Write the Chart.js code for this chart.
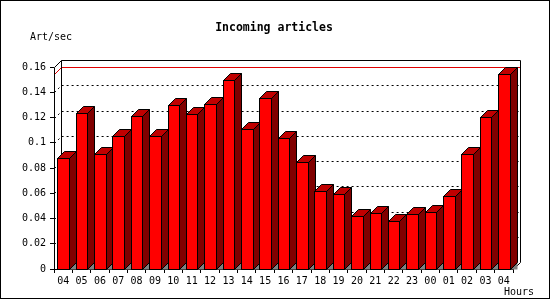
<!DOCTYPE html>
<html>
<head>
<meta charset="utf-8">
<script src="https://cdn.jsdelivr.net/npm/chart.js@4.4.1/dist/chart.umd.min.js"></script>
<style>
  html, body { margin: 0; padding: 0; background: #fff; }
  canvas { display: block; }
</style>
</head>
<body>
<canvas id="myChart" width="550" height="300"></canvas>
<script>
const hours = ['04', '05', '06', '07', '08', '09', '10', '11', '12', '13', '14', '15', '16',
    '17', '18', '19', '20', '21', '22', '23', '00', '01', '02', '03', '04'];
const artPerSec = [0.0877, 0.1233, 0.0908, 0.1051, 0.121, 0.1051, 0.1297, 0.1225, 0.1305,
    0.1495, 0.1107, 0.1352, 0.1035, 0.0845, 0.0615, 0.0592, 0.0417, 0.0441, 0.0378,
    0.0433, 0.0449, 0.0576, 0.0908, 0.1202, 0.1542];
const yTicks = [0, 0.02, 0.04, 0.06, 0.08, 0.1, 0.12, 0.14, 0.16];

const chartTitle = 'Incoming articles';
const yTitle = 'Art/sec';
const xTitle = 'Hours';

const mono = "'DejaVu Sans Mono', 'Liberation Mono', monospace";
const DEPTH = 7;

// gd-style 3d bars, back wall and grid
const threeD = {
    id: 'threeD',
    beforeDraw(chart) {
        const c = chart.ctx;
        c.save();
        c.fillStyle = '#fff';
        c.fillRect(0, 0, chart.width, chart.height);
        c.restore();
    },
    beforeDatasetsDraw(chart) {
        const c = chart.ctx;
        const a = chart.chartArea;
        const ys = chart.scales.y;
        const L = Math.round(a.left) + 0.5, R = Math.round(a.right) + 0.5;
        const T = Math.round(a.top) + 0.5, B = Math.round(a.bottom) + 0.5;
        c.save();
        c.lineWidth = 1;

        // dotted grid on back wall + side wall
        c.strokeStyle = '#000';
        c.setLineDash([2, 3]);
        yTicks.forEach(v => {
            if (v === 0 || v === ys.max) return;
            const y = Math.round(ys.getPixelForValue(v)) + 0.5;
            c.beginPath();
            c.moveTo(L, y);
            c.lineTo(L + DEPTH, y - DEPTH);
            c.lineTo(R + DEPTH, y - DEPTH);
            c.stroke();
        });
        c.setLineDash([]);

        // max line
        const yMax = Math.round(ys.getPixelForValue(Math.max(...artPerSec))) + 0.5;
        c.strokeStyle = '#e00000';
        c.beginPath();
        c.moveTo(L, yMax);
        c.lineTo(L + DEPTH, yMax - DEPTH);
        c.lineTo(R + DEPTH, yMax - DEPTH);
        c.stroke();

        // frame
        c.strokeStyle = '#000';
        c.beginPath();
        c.moveTo(L, B);
        c.lineTo(L, T);
        c.lineTo(L + DEPTH, T - DEPTH);
        c.lineTo(R + DEPTH, T - DEPTH);
        c.lineTo(R + DEPTH, B - DEPTH);
        c.lineTo(R, B);
        c.lineTo(L, B);
        c.moveTo(L + DEPTH, T - DEPTH);
        c.lineTo(L + DEPTH, B - DEPTH);
        c.stroke();
        c.restore();
    },
    afterDatasetsDraw(chart) {
        const c = chart.ctx;
        const meta = chart.getDatasetMeta(0);
        c.save();
        c.lineWidth = 1;
        c.strokeStyle = '#000';
        meta.data.forEach(bar => {
            const l = Math.round(bar.x - bar.width / 2) + 0.5;
            const r = Math.round(bar.x + bar.width / 2) + 0.5;
            const t = Math.round(bar.y) + 0.5;
            const b = Math.round(bar.base) + 0.5;
            // floor shadow
            c.fillStyle = '#808080';
            c.beginPath();
            c.moveTo(r, b);
            c.lineTo(r + DEPTH, b - DEPTH);
            c.lineTo(r + DEPTH, b);
            c.closePath();
            c.fill();
            // side
            c.fillStyle = '#800000';
            c.beginPath();
            c.moveTo(r, t);
            c.lineTo(r + DEPTH, t - DEPTH);
            c.lineTo(r + DEPTH, b - DEPTH);
            c.lineTo(r, b);
            c.closePath();
            c.fill();
            c.stroke();
            // top
            c.fillStyle = '#c00000';
            c.beginPath();
            c.moveTo(l, t);
            c.lineTo(l + DEPTH, t - DEPTH);
            c.lineTo(r + DEPTH, t - DEPTH);
            c.lineTo(r, t);
            c.closePath();
            c.fill();
            c.stroke();
            // front
            c.fillStyle = '#ff0000';
            c.fillRect(l, t, r - l, b - t);
            c.strokeRect(l, t, r - l, b - t);
        });
        c.restore();
    },
    afterDraw(chart) {
        const c = chart.ctx;
        c.save();
        c.fillStyle = '#000';
        c.textBaseline = 'alphabetic';
        c.font = 'bold 11.5px ' + mono;
        c.textAlign = 'center';
        c.fillText(chartTitle, 274, 31);
        c.font = '10px ' + mono;
        c.textAlign = 'left';
        c.fillText(yTitle, 30, 40);
        c.fillText(xTitle, 504, 295);
        c.strokeStyle = '#000';
        c.lineWidth = 1;
        c.strokeRect(0.5, 0.5, 549, 298);
        c.restore();
    }
};

const ctx = document.getElementById('myChart').getContext('2d');

const myChart = new Chart(ctx, {
    type: 'bar',
    data: {
        labels: hours,
        datasets: [{
            label: yTitle,
            data: artPerSec,
            backgroundColor: 'rgba(0, 0, 0, 0)',
            borderWidth: 0,
            barPercentage: 0.63,
            categoryPercentage: 1
        }]
    },
    options: {
        responsive: false,
        animation: false,
        devicePixelRatio: 1,
        layout: { padding: { top: 67, right: 37, left: 0, bottom: 0 } },
        plugins: {
            legend: { display: false },
            tooltip: { enabled: false }
        },
        scales: {
            x: {
                grid: { drawOnChartArea: false, tickLength: 4, color: '#000', offset: true },
                border: { display: false },
                ticks: { color: '#000', font: { family: mono, size: 10 }, padding: 2, maxRotation: 0, autoSkip: false },
                afterFit: s => { s.height = 31; }
            },
            y: {
                min: 0,
                max: 0.16,
                grid: { drawOnChartArea: false, tickLength: 4, color: '#000' },
                border: { display: false },
                ticks: {
                    stepSize: 0.02,
                    color: '#000',
                    font: { family: mono, size: 10 },
                    padding: 4,
                    callback: v => String(Math.round(v * 100) / 100)
                },
                afterFit: s => { s.width = 54; }
            }
        }
    },
    plugins: [threeD]
});
</script>
</body>
</html>
